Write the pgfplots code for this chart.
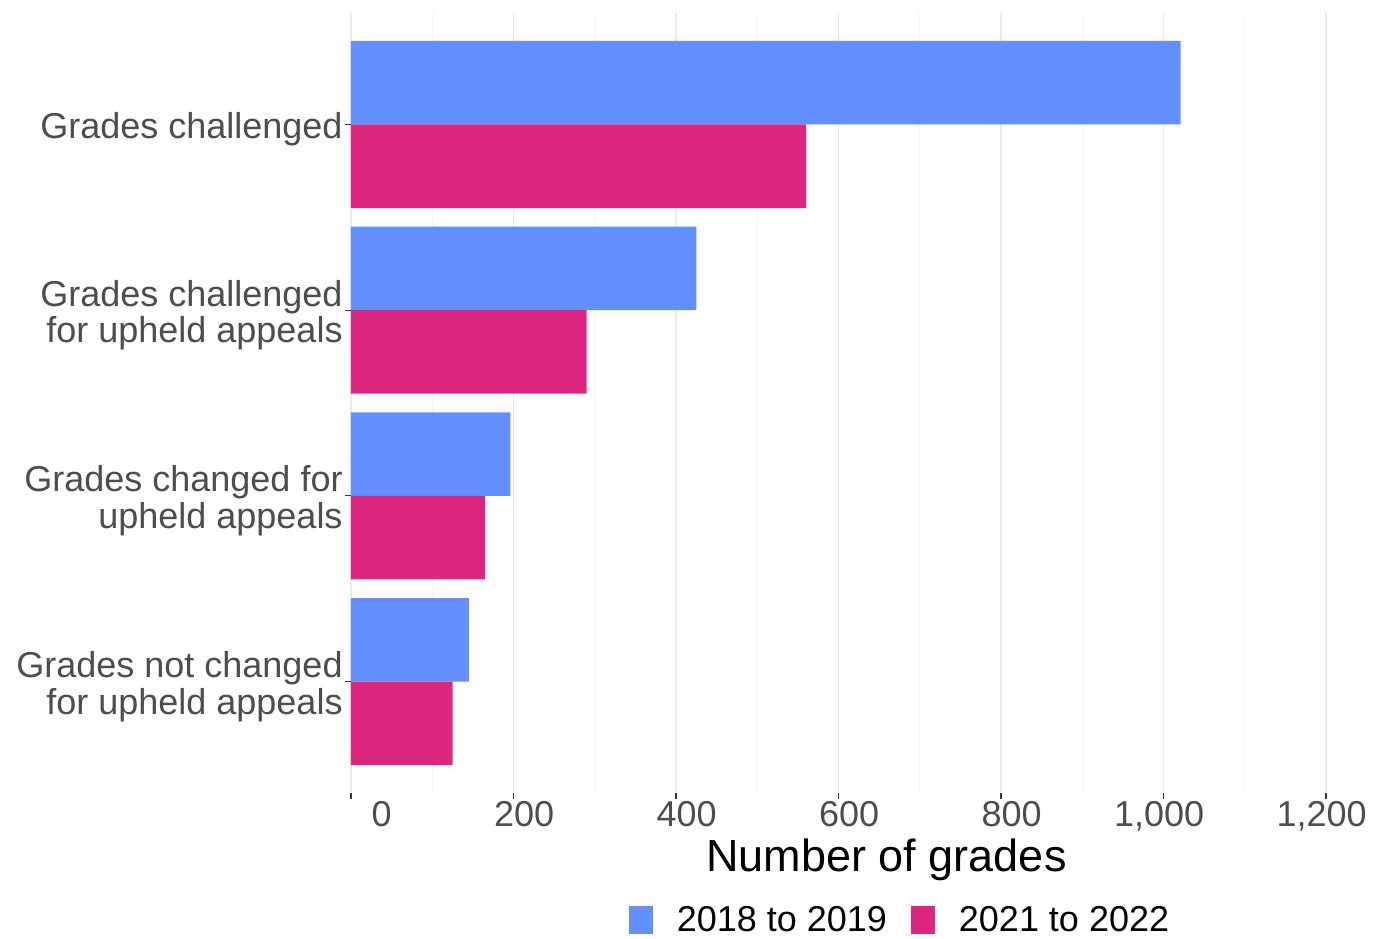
\documentclass[border=0pt]{standalone}
\usepackage{fontspec}
\setmainfont{Liberation Sans}
\usepackage{pgfplots}
\pgfplotsset{compat=1.18}
\definecolor{blu}{HTML}{648FFF}
\definecolor{mag}{HTML}{DC267F}
\definecolor{ticktxt}{HTML}{4D4D4D}
\definecolor{gridmaj}{HTML}{EBEBEB}
\definecolor{gridmin}{HTML}{F3F3F3}
\begin{document}
\begin{tikzpicture}
\begin{axis}[
  scale only axis, width=487.5pt, height=390pt,
  xmin=0, xmax=1200, ymin=-0.6, ymax=3.6, y dir=reverse,
  clip=false,
  axis line style={draw=none},
  tick pos=left, tick align=outside,
  major tick length=3pt, minor tick length=0pt,
  tick style={color=ticktxt!70!black, line width=0.6pt},
  xtick={0,200,...,1200}, minor x tick num=1,
  scaled x ticks=false,
  /pgf/number format/.cd, 1000 sep={,}, assume math mode=true, /pgfplots/.cd,
  ytick={0,1,2,3},
  yticklabels={Grades challenged, {Grades challenged\\for upheld appeals}, {Grades changed for\\upheld appeals}, {Grades not changed\\for upheld appeals}},
  xmajorgrids, xminorgrids,
  major grid style={gridmaj, line width=0.8pt},
  minor grid style={gridmin, line width=0.6pt},
  xticklabel style={font=\fontsize{18}{18}\selectfont, text=ticktxt, anchor=north east, inner sep=0pt, xshift=20.5pt, yshift=-1pt},
  yticklabel style={font=\fontsize{18}{18.3}\selectfont, text=ticktxt, align=right, inner sep=0pt, xshift=-1pt, yshift=-2.5pt},
  legend columns=2,
  legend style={at={(axis description cs:0.562,0)}, anchor=center, yshift=-63.5pt,
    draw=none, fill=none, font=\fontsize{18}{18}\selectfont,
    nodes={inner sep=0pt, anchor=base west},
    /tikz/every even column/.append style={column sep=12pt}},
]
\addplot[xbar, bar width=0.45, bar shift=-0.225, fill=blu, draw=none,
  legend image code/.code={\fill[blu] (0pt,-1pt) rectangle (12pt,13pt); \path (24pt,0pt);}]
  coordinates {(1021,0) (425,1) (196,2) (145,3)};
\addplot[xbar, bar width=0.45, bar shift=0.225, fill=mag, draw=none,
  legend image code/.code={\fill[mag] (0pt,-1pt) rectangle (12pt,13pt); \path (24pt,0pt);}]
  coordinates {(560,0) (290,1) (165,2) (125,3)};
\legend{2018 to 2019, 2021 to 2022}
\node[anchor=base, font=\fontsize{22.5}{22.5}\selectfont, xshift=24pt, yshift=-39pt] at (axis description cs:0.5,0) {Number of grades};
\coordinate (pl) at (axis description cs:0,0);
\end{axis}
\path ([xshift=-175.5pt,yshift=-71.5pt]pl) rectangle ([xshift=522pt,yshift=396.5pt]pl);
\end{tikzpicture}
\end{document}
